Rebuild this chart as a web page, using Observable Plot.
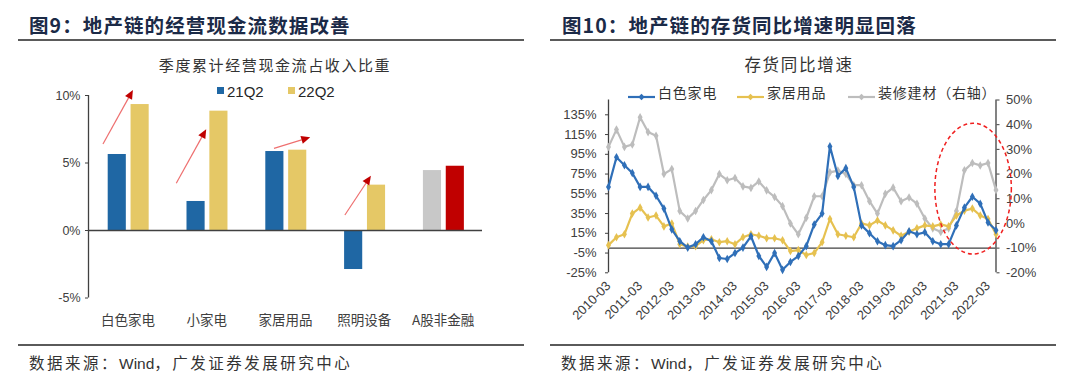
<!DOCTYPE html>
<html><head><meta charset="utf-8">
<script src="https://cdn.jsdelivr.net/npm/d3@7"></script>
<script src="https://cdn.jsdelivr.net/npm/@observablehq/plot@0.6"></script>
<style>
html,body{margin:0;padding:0;background:#fff;}
#page{position:relative;width:1080px;height:385px;overflow:hidden;font-family:"Noto Sans CJK SC",sans-serif;}
.abs{position:absolute;white-space:nowrap;line-height:1;}
.lc{transform:translateY(-50%);}
.cc{transform:translate(-50%,-50%);}
.title{font-size:19.5px;font-weight:700;color:#1b2a47;letter-spacing:1.1px;}
.hr{position:absolute;height:1.5px;background:#5a5a5a;}
.sub{color:#333;}
.src{font-size:15.5px;color:#333;letter-spacing:2.5px;}
.latin{font-family:"Liberation Sans",Arial,sans-serif;letter-spacing:0;}
.leg{font-size:14px;color:#333;letter-spacing:0.8px;}
</style></head>
<body><div id="page">
<div id="c1" class="abs" style="left:0;top:0"></div>
<div id="c2" class="abs" style="left:540px;top:0"></div>

<div class="abs title lc" style="left:29px;top:24.5px">图9：地产链的经营现金流数据改善</div>
<div class="hr" style="left:18px;top:39px;width:506px"></div>
<div class="abs sub cc" style="left:275px;top:64px;font-size:15px;letter-spacing:1.6px">季度累计经营现金流占收入比重</div>
<div class="abs" style="left:217px;top:87px;width:7px;height:7px;background:#1f67a4"></div>
<div class="abs latin lc" style="left:227px;top:91px;font-size:15px;color:#262626">21Q2</div>
<div class="abs" style="left:288px;top:87px;width:7px;height:7px;background:#e5c866"></div>
<div class="abs latin lc" style="left:298px;top:91px;font-size:15px;color:#262626">22Q2</div>
<div class="hr" style="left:18px;top:344px;width:506px"></div>
<div class="abs src lc" style="left:29px;top:363px">数据来源：<span class="latin">Wind</span>，广发证券发展研究中心</div>

<div class="abs title lc" style="left:562px;top:25px">图10：地产链的存货同比增速明显回落</div>
<div class="hr" style="left:550px;top:39px;width:506px"></div>
<div class="abs sub cc" style="left:799px;top:64px;font-size:16.5px;letter-spacing:1.7px">存货同比增速</div>
<div id="leg2"></div>
<div class="hr" style="left:550px;top:344px;width:506px"></div>
<div class="abs src lc" style="left:561px;top:363px">数据来源：<span class="latin">Wind</span>，广发证券发展研究中心</div>
</div>
<script>
// ---------- Figure 9 data ----------
const cats = ["白色家电", "小家电", "家居用品", "照明设备", "A股非金融"];
const ratio21Q2 = [5.63, 2.15, 5.85, -2.89, 4.44];
const ratio22Q2 = [9.33, 8.84, 5.95, 3.36, 4.76];
const barSeries = ["21Q2", "22Q2"];
const barTicks = [-5, 0, 5, 10];
// red trend arrows (category, offset within category, value %)
const trendArrows = [
  {cat: "白色家电", from: [-0.31, 6.37], to: [0.07, 10.37]},
  {cat: "小家电",   from: [-0.38, 3.46], to: [0.0, 7.46]},
  {cat: "家居用品", from: [-0.14, 6.05], to: [0.32, 6.87]},
  {cat: "照明设备", from: [-0.24, 1.11], to: [0.09, 4.02]}
];

// ---------- Figure 10 data ----------
const quarters = [
 "2010-03","2010-06","2010-09","2010-12","2011-03","2011-06","2011-09","2011-12",
 "2012-03","2012-06","2012-09","2012-12","2013-03","2013-06","2013-09","2013-12",
 "2014-03","2014-06","2014-09","2014-12","2015-03","2015-06","2015-09","2015-12",
 "2016-03","2016-06","2016-09","2016-12","2017-03","2017-06","2017-09","2017-12",
 "2018-03","2018-06","2018-09","2018-12","2019-03","2019-06","2019-09","2019-12",
 "2020-03","2020-06","2020-09","2020-12","2021-03","2021-06","2021-09","2021-12",
 "2022-03","2022-06"];
const whiteGoods = [62, 92, 84, 76, 62, 62, 53, 40, 19, 7, 0.5, 4, 11, 7, -10, -11, -5, 0.5, 12, -8,
  -19, -5, -22, -14, -8, 2, 24, 35, 103, 73, 81, 62, 23, 15, 7, 3, 2, 8, 17, 14,
  16, 7, 4, 4, 23, 41, 52, 45, 26, 18];
const homeGoods = [3, 11, 14, 35, 41, 31, 33, 22, 25, 4, 1.5, 2, 8, 9, 6, 7, 4, 11, 14, 12.5,
  10, 10, 8, -3, -2, -7, -5, 6, 29.5, 14, 12.5, 11, 25, 23, 28, 23, 18, 12.5, 16.5, 20,
  23, 22, 24, 22, 33, 38, 40, 33, 29.5, 14];
const decoMaterials = [31, 38, 31, 32, 43, 37, 35.5, 20, 22, 5, 2, 5, 9.5, 13.5, 20, 17.5, 18.4, 15, 14.4, 17,
  13.4, 10.7, 7, 0, -4.4, 2.3, 11, 11, 20.7, 21.4, 20, 15.5, 15.5, 9, 4, 12, 14.5, 9, 10.5, 8,
  2, -2, -3.5, -2, 5, 21.5, 24.5, 23.5, 24.5, 13.5]; // right axis
const leftTicks = [-25, -5, 15, 35, 55, 75, 95, 115, 135];
const rightTicks = [-20, -10, 0, 10, 20, 30, 40, 50];
const seriesNames = ["白色家电", "家居用品", "装修建材（右轴）"];
// dashed ellipse highlight (date span, right-axis % span)
const highlight = {from: "2020-07", to: "2022-12", low: -12.6, high: 40.4};

// ---------- Figure 9 ----------
const COL = {blue: "#1f67a4", gold: "#e5c866", gray: "#c8c8c8", red: "#c00000"};
const barRows = cats.flatMap((c, i) => [
  {i, c, s: barSeries[0], v: ratio21Q2[i]},
  {i, c, s: barSeries[1], v: ratio22Q2[i]}
]);
const arrowMark = (index, scales) => {
  const g = d3.create("svg:g");
  for (const a of trendArrows) {
    const i = cats.indexOf(a.cat);
    const x1 = scales.x(i + a.from[0]), y1 = scales.y(a.from[1]);
    const x2 = scales.x(i + a.to[0]), y2 = scales.y(a.to[1]);
    const ang = Math.atan2(y2 - y1, x2 - x1);
    const L = 9, W = 4;
    const bx = x2 - L * Math.cos(ang), by = y2 - L * Math.sin(ang);
    g.append("line").attr("x1", x1).attr("y1", y1).attr("x2", bx).attr("y2", by)
      .attr("stroke", "#ee6f6f").attr("stroke-width", 1.2);
    g.append("polygon")
      .attr("points", [[x2, y2], [bx - W * Math.sin(ang), by + W * Math.cos(ang)], [bx + W * Math.sin(ang), by - W * Math.cos(ang)]].map(p => p.join(",")).join(" "))
      .attr("fill", "#c00000");
  }
  return g.node();
};
const p1 = Plot.plot({
  width: 540, height: 385,
  marginLeft: 88, marginRight: 58, marginTop: 95, marginBottom: 87.5,
  x: {type: "linear", domain: [-0.5, 4.5]},
  y: {domain: [-5, 10]},
  color: {type: "identity"},
  style: {background: "transparent", fontFamily: "Liberation Sans, Arial, sans-serif", fontSize: "12.5px", color: "#404040", overflow: "visible"},
  marks: [
    Plot.rectY(barRows, {
      x1: d => d.i + (d.s === barSeries[0] ? -0.25 : 0.04),
      x2: d => d.i + (d.s === barSeries[0] ? -0.02 : 0.27),
      y1: 0, y2: "v",
      fill: d => d.c === "A股非金融" ? (d.s === barSeries[0] ? COL.gray : COL.red) : (d.s === barSeries[0] ? COL.blue : COL.gold)
    }),
    Plot.ruleY([0], {stroke: "#404040", strokeWidth: 1.3}),
    Plot.ruleX([-0.5], {y1: -5, y2: 10, stroke: "#404040", strokeWidth: 1.3}),
    Plot.axisY({ticks: barTicks, tickFormat: d => d + "%", tickSize: 3, tickPadding: 5, label: null, fontSize: 12.5}),
    Plot.axisX({ticks: cats.map((c, i) => i), tickFormat: i => cats[i], tickSize: 0, tickPadding: 17, label: null,
      fontSize: 13.5, fontFamily: "Noto Sans CJK SC", letterSpacing: 0.6}),
    arrowMark
  ]
});
document.getElementById("c1").append(p1);

// ---------- Figure 10 ----------
const parse = d3.utcParse("%Y-%m");
const toLeft = r => (r + 10) * 2.5; // right-axis % -> left-axis %
const rows2 = quarters.map((q, i) => ({date: parse(q), white: whiteGoods[i], home: homeGoods[i], deco: toLeft(decoMaterials[i])}));
const d0 = parse(quarters[0]), d1 = parse(quarters[quarters.length - 1]);
const LINE = {blue: "#2f6fb8", gold: "#e6c150", gray: "#bdbdbd"};
const ellipseMark = (index, scales) => {
  const xa = scales.x(parse(highlight.from)), xb = scales.x(parse(highlight.to));
  const ya = scales.y(toLeft(highlight.high)), yb = scales.y(toLeft(highlight.low));
  return d3.create("svg:ellipse")
    .attr("cx", (xa + xb) / 2).attr("cy", (ya + yb) / 2)
    .attr("rx", (xb - xa) / 2).attr("ry", (yb - ya) / 2)
    .attr("fill", "none").attr("stroke", "#f02020").attr("stroke-width", 1.5)
    .attr("stroke-dasharray", "4,3").node();
};
const series = (key, color) => [
  Plot.line(rows2, {x: "date", y: key, stroke: color, strokeWidth: 2.2}),
  Plot.dot(rows2, {x: "date", y: key, symbol: "diamond", r: 2.6, fill: color, stroke: "none"})
];
const p2 = Plot.plot({
  width: 540, height: 385,
  marginLeft: 68, marginRight: 84.5, marginTop: 99.5, marginBottom: 112.7,
  x: {type: "utc", domain: [d0, d1]},
  y: {domain: [toLeft(rightTicks[0]), toLeft(rightTicks[rightTicks.length - 1])]},
  style: {background: "transparent", fontFamily: "Liberation Sans, Arial, sans-serif", fontSize: "13px", color: "#404040", overflow: "visible"},
  marks: [
    Plot.ruleX([d0], {y1: -25, y2: 150, stroke: "#404040", strokeWidth: 1.3}),
    Plot.ruleX([d1], {y1: -25, y2: 150, stroke: "#404040", strokeWidth: 1.3}),
    Plot.ruleY([0], {stroke: "#404040", strokeWidth: 1.3}),
    ...series("deco", LINE.gray),
    ...series("home", LINE.gold),
    ...series("white", LINE.blue),
    Plot.axisY({ticks: leftTicks, tickFormat: d => d + "%", tickSize: 3, tickPadding: 9, label: null}),
    Plot.axisY(rightTicks.map(toLeft), {anchor: "right", tickFormat: v => Math.round(v / 2.5 - 10) + "%", tickSize: 3, tickPadding: 7, label: null}),
    Plot.axisX({ticks: quarters.filter(q => q.endsWith("-03")).map(parse), tickFormat: d3.utcFormat("%Y-%m"),
      tickRotate: -45, tickSize: 0, tickPadding: 11, label: null, fontSize: 13}),
    ellipseMark
  ]
});
document.getElementById("c2").append(p2);

// legend for figure 10
const legColors = [LINE.blue, LINE.gold, LINE.gray];
const legX = [628, 737, 848];
const leg = document.getElementById("leg2");
seriesNames.forEach((name, k) => {
  const sw = document.createElement("div");
  sw.className = "abs";
  sw.style.cssText = `left:${legX[k]}px;top:86.5px`;
  sw.innerHTML = `<svg width="27" height="10"><line x1="0" y1="5" x2="27" y2="5" stroke="${legColors[k]}" stroke-width="2.2"/><path d="M13.5 1.8 L16.7 5 L13.5 8.2 L10.3 5 Z" fill="${legColors[k]}"/></svg>`;
  leg.append(sw);
  const t = document.createElement("div");
  t.className = "abs leg lc";
  t.style.cssText = `left:${legX[k] + 30}px;top:92px`;
  t.textContent = name;
  leg.append(t);
});
</script>
</body></html>
